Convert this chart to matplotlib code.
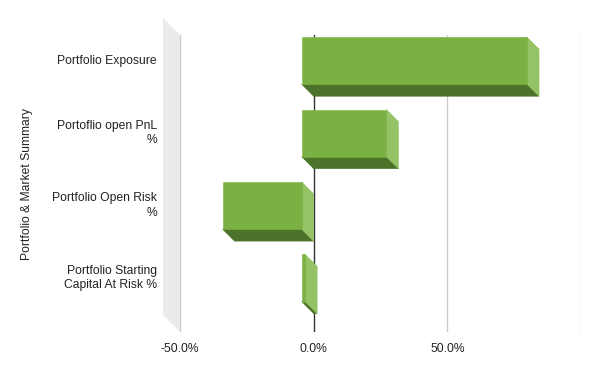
import matplotlib
matplotlib.use("Agg")
import matplotlib.pyplot as plt
from matplotlib.patches import Polygon
from matplotlib.transforms import IdentityTransform, ScaledTranslation, blended_transform_factory

plt.rcParams['font.family'] = ['Liberation Sans', 'DejaVu Sans']

categories = ["Portfolio Exposure", "Portoflio open PnL\n%",
              "Portfolio Open Risk\n%", "Portfolio Starting\nCapital At Risk %"]
values = [84.3, 31.7, -29.6, 1.3]
tick_values = [-50, 0, 50]
tick_labels = ["-50.0%", "0.0%", "50.0%"]
grid_values = [-50, 50, 100]
axis_title = "Portfolio & Market Summary"

W, H, DPI = 600, 371, 100
DEPTH = 12       # bar depth, px
WALL = 17        # left wall depth, px
BAR_H = 0.65
FS = 8.7

col_front = "#7bb042"
col_side = "#94c265"
col_bottom = "#4b7329"


def px(x, y):
    return (x / W, 1 - y / H)


fig = plt.figure(figsize=(W / DPI, H / DPI), dpi=DPI)
left, top = px(180, 35)
right, bottom = px(581, 332)
ax = fig.add_axes([left, bottom, right - left, top - bottom])
ax.set_xlim(-50, 100)
ax.set_ylim(3.58, -0.52)
for s in ax.spines.values():
    s.set_visible(False)
ax.set_yticks([])
ax.set_xticks(tick_values, tick_labels)
ax.tick_params(axis="x", length=0, pad=8, labelsize=FS, labelcolor="#222222")

# gridlines and zero line
for g in grid_values:
    ax.axvline(g, color="#cccccc", lw=1, zorder=1)
ax.axvline(0, color="#333333", lw=1, zorder=1)

T = ax.transData


def shifted(pt, d):
    return (pt[0] - d, pt[1] + d)


# left wall
wb = [T.transform((-50, ax.get_ylim()[1])), T.transform((-50, ax.get_ylim()[0]))]
wall = [shifted(wb[0], WALL), wb[0], wb[1], shifted(wb[1], WALL)]
fig.patches.append(Polygon(wall, closed=True, transform=IdentityTransform(),
                           facecolor="#ebebeb", edgecolor="none", zorder=0))

# 3D bars
for i, v in enumerate(values):
    xl, xr = min(0, v), max(0, v)
    bl = T.transform((xl, i + BAR_H / 2))
    br = T.transform((xr, i + BAR_H / 2))
    tl = T.transform((xl, i - BAR_H / 2))
    tr = T.transform((xr, i - BAR_H / 2))
    fbl, fbr, ftl, ftr = [shifted(p, DEPTH) for p in (bl, br, tl, tr)]
    bottom_face = [fbl, fbr, br, bl]
    side_face = [ftr, tr, br, fbr]
    front_face = [fbl, fbr, ftr, ftl]
    for face, c in ((bottom_face, col_bottom), (side_face, col_side), (front_face, col_front)):
        ax.add_patch(Polygon(face, closed=True, transform=IdentityTransform(),
                             facecolor=c, edgecolor=c, lw=0.4, zorder=3, clip_on=False))

# category labels, aligned with the front faces
lab_tr = blended_transform_factory(fig.transFigure, ax.transData) + \
    ScaledTranslation(0, DEPTH / DPI, fig.dpi_scale_trans)
for i, c in enumerate(categories):
    ax.text(157 / W, i, c, transform=lab_tr, ha="right", va="center",
            fontsize=FS, color="#222222", linespacing=1.3)

fig.text(27 / W, 1 - 184 / H, axis_title, rotation=90, ha="center", va="center",
         fontsize=FS, color="#222222")

fig.savefig("out.png", dpi=DPI)
